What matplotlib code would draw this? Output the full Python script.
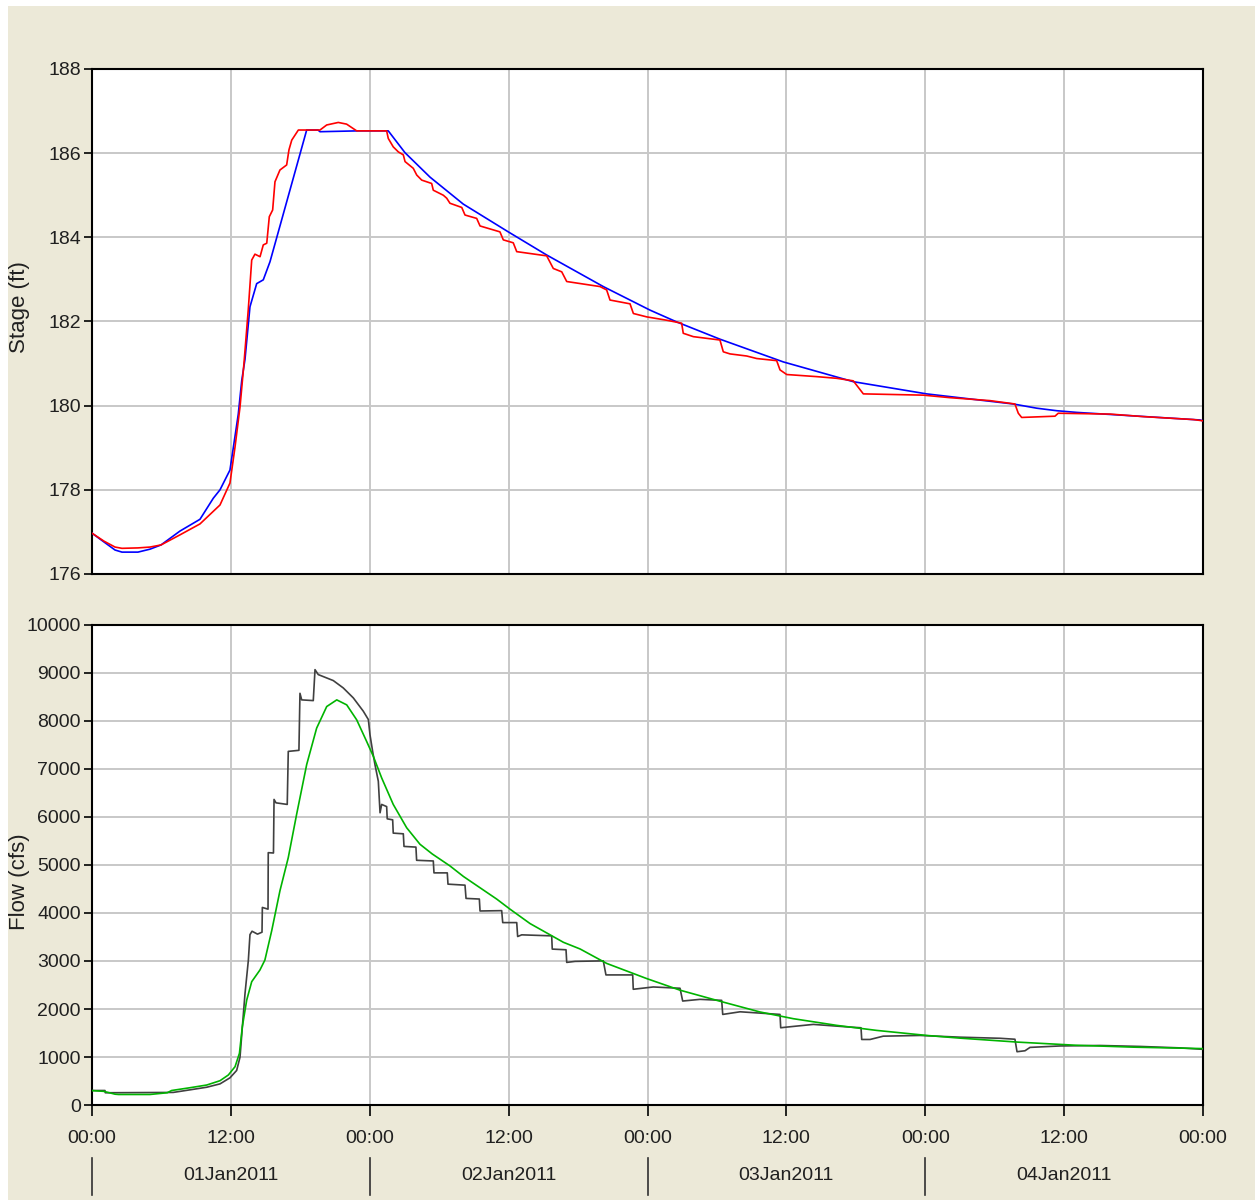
import matplotlib
matplotlib.use("Agg")
import matplotlib.pyplot as plt
from matplotlib.patches import Rectangle
from matplotlib.lines import Line2D
import matplotlib.transforms as mtransforms

# ---------------- data (hours since 01Jan2011 00:00) ----------------
stage_comp_h = [0, 1.04, 1.99, 2.59, 3.97, 5.01, 5.96, 7.60, 9.33, 10.48, 11.06, 11.92, 12.21,
                12.64, 12.94, 13.22, 13.65, 14.23, 14.80, 15.38, 16.10, 18.55, 19.53, 19.70,
                22.98, 25.60, 27.05, 29.21, 32.08, 35.97, 39.29, 44.18, 48.22, 50.52, 54.26,
                59.73, 65.78, 72.12, 79.61, 81.63, 83.36, 85.09, 95.74, 96.0]
stage_comp = [176.97, 176.76, 176.57, 176.52, 176.52, 176.59, 176.69, 177.02, 177.30, 177.80,
              178.00, 178.47, 179.00, 179.80, 180.60, 181.10, 182.35, 182.90, 182.99, 183.42,
              184.13, 186.55, 186.55, 186.51, 186.53, 186.53, 186.01, 185.43, 184.79, 184.13,
              183.58, 182.83, 182.27, 181.99, 181.58, 181.04, 180.57, 180.28, 180.04, 179.94,
              179.88, 179.84, 179.66, 179.64]

stage_obs_h = [0, 1.04, 1.99, 2.59, 3.97, 5.01, 5.96, 7.60, 9.33, 11.06, 11.92, 12.35, 12.79,
               13.13, 13.50, 13.80, 14.08, 14.52, 14.80, 15.10, 15.32, 15.61, 15.81, 16.24,
               16.82, 17.02, 17.26, 17.83, 19.70, 20.28, 21.28, 22.00, 22.87, 25.46,
               25.60, 26.03, 26.47, 26.90, 27.05, 27.76, 28.06, 28.49, 29.35, 29.49, 30.36,
               30.65, 30.93, 31.95, 32.23, 33.24, 33.53, 35.25, 35.54, 36.40, 36.70, 39.29,
               39.86, 40.59, 41.02, 43.90, 44.47, 44.76, 46.49, 46.78, 47.93, 49.66, 50.95,
               51.09, 51.96, 54.26, 54.55, 55.13, 56.57, 57.44, 59.16, 59.45, 60.03, 62.62,
               64.35, 65.78, 66.65, 71.83, 74.14, 77.59, 79.75, 80.04, 80.33, 83.21, 83.49,
               87.96, 90.84, 95.16, 96.0]
stage_obs = [176.97, 176.78, 176.64, 176.61, 176.62, 176.64, 176.69, 176.93, 177.19, 177.64,
             178.16, 179.00, 179.97, 181.00, 182.27, 183.46, 183.60, 183.54, 183.82, 183.86,
             184.49, 184.65, 185.32, 185.60, 185.72, 186.08, 186.31, 186.55, 186.55, 186.67,
             186.73, 186.69, 186.53, 186.53, 186.35, 186.15, 186.03, 185.96, 185.80, 185.64,
             185.48, 185.36, 185.28, 185.12, 185.00, 184.93, 184.81, 184.71, 184.53, 184.45,
             184.27, 184.13, 183.94, 183.87, 183.66, 183.56, 183.26, 183.18, 182.95, 182.83,
             182.75, 182.51, 182.42, 182.19, 182.11, 182.03, 181.96, 181.72, 181.64, 181.56,
             181.28, 181.23, 181.18, 181.12, 181.07, 180.85, 180.74, 180.69, 180.65, 180.59,
             180.28, 180.25, 180.19, 180.12, 180.04, 179.82, 179.72, 179.75, 179.82, 179.80,
             179.74, 179.67, 179.64]

flow_obs_h = [0, 1.12, 1.15, 7.02, 8.47, 9.91, 11.06, 11.92, 12.50, 12.79, 12.99, 13.22, 13.51,
              13.65, 13.83, 14.3, 14.69, 14.72, 15.21, 15.23, 15.68, 15.73, 15.90, 16.87,
              16.96, 17.88, 17.97, 18.12, 19.12, 19.27, 19.55, 20.85, 21.71, 22.58, 23.44,
              23.88, 24.02, 24.25, 24.45, 24.74, 24.89, 25.03, 25.46, 25.51, 25.98, 26.03,
              26.90, 26.96, 27.99, 28.05, 29.49, 29.55, 30.70, 30.76, 32.23, 32.32, 33.47,
              33.53, 35.40, 35.49, 36.70, 36.78, 37.13, 39.72, 39.77, 40.96, 41.02, 41.74,
              44.18, 44.41, 46.72, 46.77, 48.50, 50.81, 51.04, 52.54, 54.41, 54.50, 56.00,
              59.45, 59.51, 60.03, 62.33, 65.50, 66.45, 66.51, 67.23, 68.37, 71.54, 75.00,
              78.46, 79.75, 79.93, 80.62, 81.05, 83.64, 87.10, 90.56, 94.00, 96.0]
flow_obs = [302, 302, 255, 262, 316, 370, 440, 566, 720, 997, 1622, 2318, 3014,
            3550, 3620, 3560, 3600, 4116, 4080, 5257, 5250, 6366, 6295, 6262,
            7367, 7389, 8577, 8440, 8425, 9070, 8967, 8842, 8689, 8481, 8205,
            8030, 7714, 7367, 7092, 6745, 6088, 6262, 6217, 5962, 5941, 5664,
            5650, 5387, 5373, 5098, 5084, 4836, 4836, 4601, 4580, 4304, 4291,
            4042, 4049, 3800, 3800, 3510, 3545, 3524, 3248, 3234, 2971, 2992,
            3003, 2710, 2710, 2411, 2459, 2432, 2166, 2201, 2180, 1887, 1942,
            1887, 1609, 1623, 1679, 1623, 1609, 1365, 1365, 1434, 1449, 1413,
            1390, 1370, 1110, 1130, 1200, 1230, 1240, 1220, 1190, 1160]

flow_comp_h = [0, 1.0, 2.0, 2.3, 5.0, 6.5, 6.88, 8.47, 9.91, 11.06, 11.78, 12.36, 12.74, 12.99,
               13.37, 13.80, 14.51, 14.94, 15.53, 16.24, 16.96, 17.68, 18.55, 19.41, 20.28,
               21.15, 22.01, 22.87, 23.73, 24.31, 25.03, 26.03, 27.19, 28.34, 29.40, 30.93,
               32.10, 34.97, 36.12, 37.85, 40.73, 42.18, 44.47, 47.93, 50.81, 54.26, 57.72,
               60.60, 64.35, 67.80, 72.13, 75.00, 80.00, 85.00, 90.00, 96.0]
flow_comp = [300, 285, 225, 219, 219, 255, 302, 360, 416, 506, 625, 798, 1077, 1632,
             2187, 2569, 2812, 3020, 3633, 4463, 5154, 6054, 7092, 7851, 8301,
             8440, 8336, 8025, 7575, 7264, 6814, 6262, 5776, 5432, 5230, 4981,
             4760, 4290, 4080, 3780, 3390, 3250, 2950, 2634, 2392, 2162, 1938,
             1798, 1659, 1554, 1449, 1393, 1310, 1245, 1205, 1175]

x_tick_hours = [0, 12, 24, 36, 48, 60, 72, 84, 96]
x_tick_labels = ["00:00", "12:00", "00:00", "12:00", "00:00", "12:00", "00:00", "12:00", "00:00"]
day_hours = [0, 24, 48, 72]
day_labels = ["01Jan2011", "02Jan2011", "03Jan2011", "04Jan2011"]
stage_ticks = [176, 178, 180, 182, 184, 186, 188]
flow_ticks = [0, 1000, 2000, 3000, 4000, 5000, 6000, 7000, 8000, 9000, 10000]

# ---------------- figure ----------------
W, H = 1255, 1200
fig = plt.figure(figsize=(W / 100, H / 100), dpi=100, facecolor="white")
bg = Rectangle((8 / W, 0), 1 - 8 / W, 1 - 6 / H, transform=fig.transFigure,
               facecolor="#ECE9D8", edgecolor="none", zorder=-10)
fig.add_artist(bg)

tick_font = dict(family=["Liberation Sans", "DejaVu Sans"], size=14)
label_font = dict(family=["Liberation Sans", "DejaVu Sans"], size=16)
GRID = "#C8C8C8"

def px_axes(x0, y0, x1, y1):
    return fig.add_axes([x0 / W, 1 - y1 / H, (x1 - x0) / W, (y1 - y0) / H])

ax1 = px_axes(92, 69, 1203, 574)
ax2 = px_axes(92, 625, 1203, 1105)

for ax in (ax1, ax2):
    ax.set_zorder(1)
    ax.set_facecolor("white")
    ax.set_xlim(0, 96)
    ax.set_xticks(x_tick_hours)
    ax.grid(True, color=GRID, linewidth=1.4, zorder=0)
    ax.set_axisbelow(True)
    for s in ax.spines.values():
        s.set_color("black")
        s.set_linewidth(1.5)
    ax.tick_params(axis="y", direction="out", length=6, width=1.2, pad=2, colors="black",
                   labelcolor="#202020")

# top: stage
ax1.plot(stage_comp_h, stage_comp, color="#0000FF", linewidth=1.2, zorder=3)
ax1.plot(stage_obs_h, stage_obs, color="#FF0000", linewidth=1.2, zorder=4)
ax1.set_ylim(176, 188)
ax1.set_yticks(stage_ticks)
ax1.set_yticklabels([str(v) for v in stage_ticks], **tick_font)
ax1.tick_params(axis="x", length=0, labelbottom=False)

# bottom: flow
ax2.plot(flow_obs_h, flow_obs, color="#404040", linewidth=1.2, zorder=3)
ax2.plot(flow_comp_h, flow_comp, color="#00B400", linewidth=1.2, zorder=4)
ax2.set_ylim(0, 10000)
ax2.set_yticks(flow_ticks)
ax2.set_yticklabels([str(v) for v in flow_ticks], **tick_font)
ax2.set_xticklabels(x_tick_labels, **tick_font)
ax2.tick_params(axis="x", direction="out", length=8, width=1.2, pad=10, colors="black",
                labelcolor="#202020")

# day labels and separators
trans = mtransforms.blended_transform_factory(ax2.transData, fig.transFigure)
for h in day_hours:
    fig.add_artist(Line2D([h, h], [1 - 1158 / H, 1 - 1195 / H], transform=trans,
                          color="#303030", linewidth=1.2))
for h, lab in zip(day_hours, day_labels):
    fig.text(h + 12, 1 - 1176 / H, lab, transform=trans, ha="center", va="center",
             color="#202020", **tick_font)

fig.text(20 / W, 1 - 307 / H, "Stage (ft)", rotation=90, ha="center", va="center",
         color="#202020", **label_font)
fig.text(20 / W, 1 - 882 / H, "Flow (cfs)", rotation=90, ha="center", va="center",
         color="#202020", **label_font)

fig.savefig("out.png", dpi=100, facecolor=fig.get_facecolor())
